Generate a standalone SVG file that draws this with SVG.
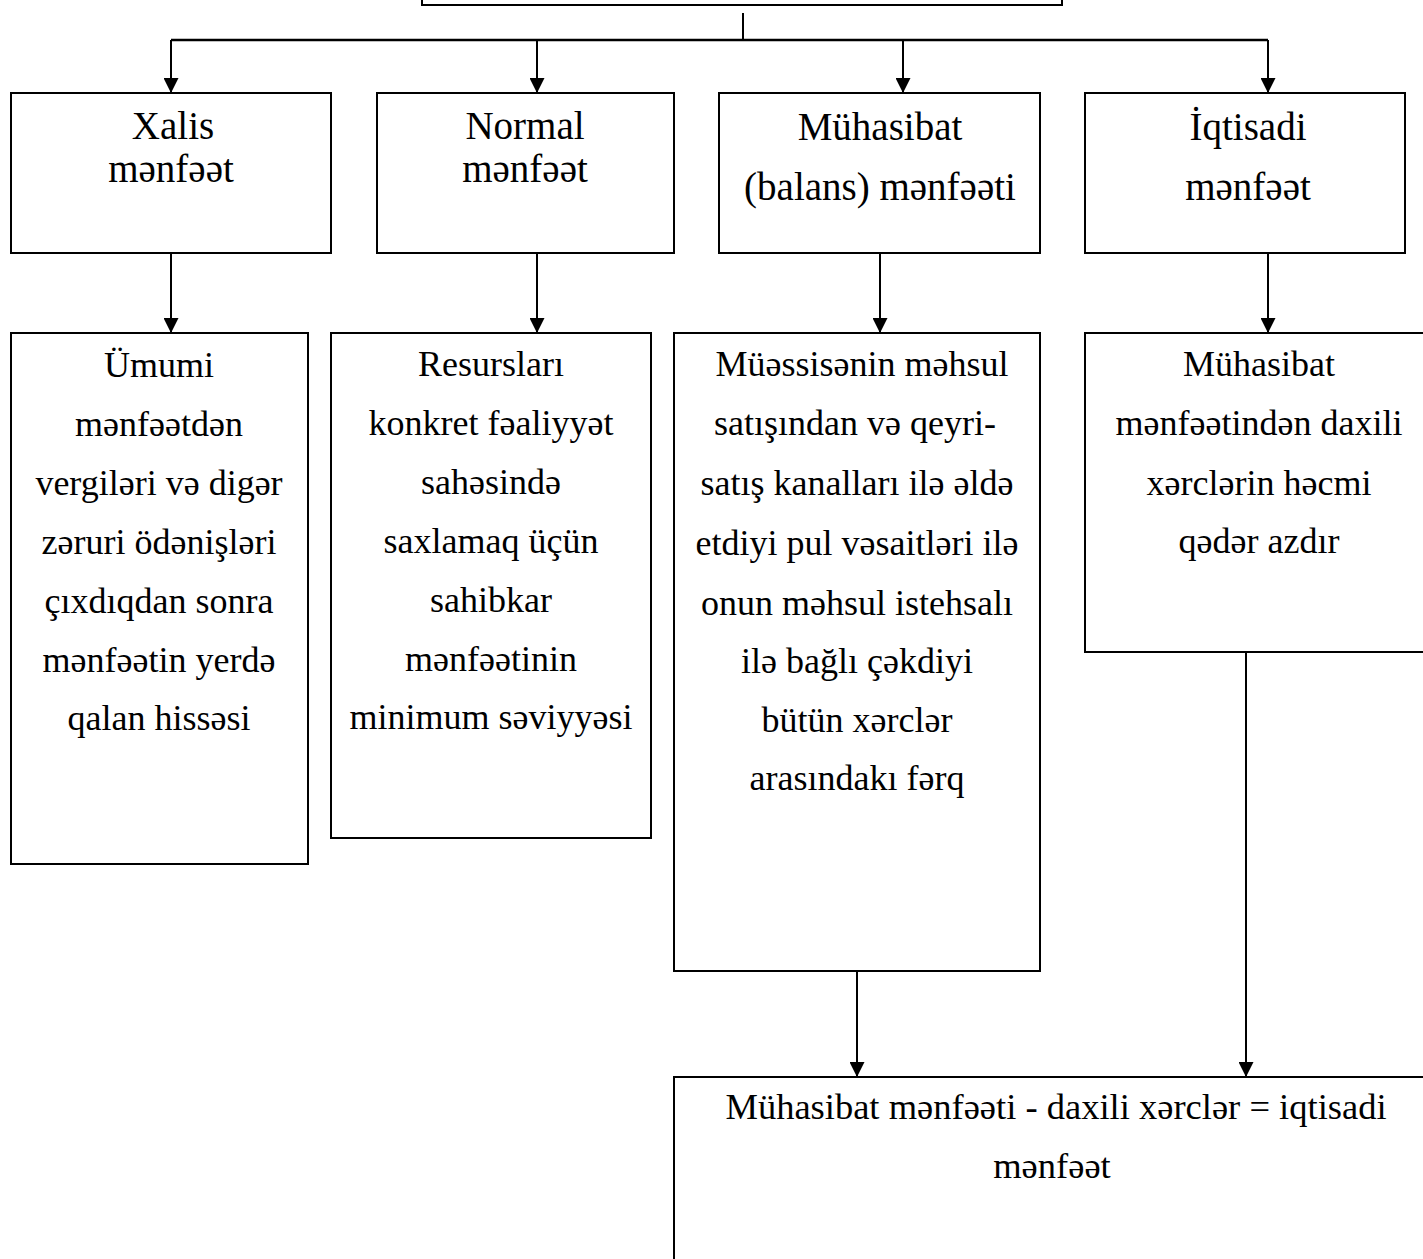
<svg xmlns="http://www.w3.org/2000/svg" width="1423" height="1259" viewBox="0 0 1423 1259">
  <style>
    .box { fill: #ffffff; stroke: #000000; stroke-width: 2; }
    .ln { fill: none; stroke: #000000; stroke-width: 2; }
    .t40 { font-family: "Liberation Serif", "DejaVu Serif", "Times New Roman", serif; font-size: 39px; fill: #000000; text-anchor: middle; }
    .t36 { font-family: "Liberation Serif", "DejaVu Serif", "Times New Roman", serif; font-size: 36px; fill: #000000; text-anchor: middle; }
  </style>
  <defs>
    <marker id="arrow" viewBox="0 0 10 10" refX="10" refY="5" markerWidth="15" markerHeight="15" markerUnits="userSpaceOnUse" orient="auto">
      <path d="M0,0 L10,5 L0,10 Z" fill="#000000"/>
    </marker>
  </defs>
  <rect width="1423" height="1259" fill="#ffffff"/>

  <g id="connectors">
    <line class="ln" x1="743" y1="13" x2="743" y2="40"/>
    <line class="ln" x1="171" y1="40" x2="1268" y2="40" style="stroke-width:2.5"/>
    <line class="ln" x1="171" y1="40" x2="171" y2="93" marker-end="url(#arrow)"/>
    <line class="ln" x1="537" y1="40" x2="537" y2="93" marker-end="url(#arrow)"/>
    <line class="ln" x1="903" y1="40" x2="903" y2="93" marker-end="url(#arrow)"/>
    <line class="ln" x1="1268" y1="40" x2="1268" y2="93" marker-end="url(#arrow)"/>
    <line class="ln" x1="171" y1="253" x2="171" y2="333" marker-end="url(#arrow)"/>
    <line class="ln" x1="537" y1="253" x2="537" y2="333" marker-end="url(#arrow)"/>
    <line class="ln" x1="880" y1="253" x2="880" y2="333" marker-end="url(#arrow)"/>
    <line class="ln" x1="1268" y1="253" x2="1268" y2="333" marker-end="url(#arrow)"/>
    <line class="ln" x1="857" y1="971" x2="857" y2="1077" marker-end="url(#arrow)"/>
    <line class="ln" x1="1246" y1="652" x2="1246" y2="1077" marker-end="url(#arrow)"/>
  </g>

  <g id="node-top">
    <rect class="box" x="422" y="-40" width="640" height="45"/>
  </g>

  <g id="node-xalis">
    <rect class="box" x="11" y="93" width="320" height="160"/>
    <text class="t40" x="173" y="139">Xalis</text>
    <text class="t40" x="171" y="182">mənfəət</text>
  </g>
  <g id="node-normal">
    <rect class="box" x="377" y="93" width="297" height="160"/>
    <text class="t40" x="525" y="139">Normal</text>
    <text class="t40" x="525" y="182">mənfəət</text>
  </g>
  <g id="node-muhasibat">
    <rect class="box" x="719" y="93" width="321" height="160"/>
    <text class="t40" x="880" y="140">Mühasibat</text>
    <text class="t40" x="880" y="200">(balans) mənfəəti</text>
  </g>
  <g id="node-iqtisadi">
    <rect class="box" x="1085" y="93" width="320" height="160"/>
    <text class="t40" x="1248" y="140">İqtisadi</text>
    <text class="t40" x="1248" y="200">mənfəət</text>
  </g>

  <g id="node-xalis-desc">
    <rect class="box" x="11" y="333" width="297" height="531"/>
    <text class="t36" x="159" y="377">Ümumi</text>
    <text class="t36" x="159" y="436">mənfəətdən</text>
    <text class="t36" x="159" y="495">vergiləri və digər</text>
    <text class="t36" x="159" y="554">zəruri ödənişləri</text>
    <text class="t36" x="159" y="613">çıxdıqdan sonra</text>
    <text class="t36" x="159" y="672">mənfəətin yerdə</text>
    <text class="t36" x="159" y="730">qalan hissəsi</text>
  </g>
  <g id="node-normal-desc">
    <rect class="box" x="331" y="333" width="320" height="505"/>
    <text class="t36" x="491" y="376">Resursları</text>
    <text class="t36" x="491" y="435">konkret fəaliyyət</text>
    <text class="t36" x="491" y="494">sahəsində</text>
    <text class="t36" x="491" y="553">saxlamaq üçün</text>
    <text class="t36" x="491" y="612">sahibkar</text>
    <text class="t36" x="491" y="671">mənfəətinin</text>
    <text class="t36" x="491" y="729">minimum səviyyəsi</text>
  </g>
  <g id="node-muhasibat-desc">
    <rect class="box" x="674" y="333" width="366" height="638"/>
    <text class="t36" x="862" y="376">Müəssisənin məhsul</text>
    <text class="t36" x="855" y="435">satışından və qeyri-</text>
    <text class="t36" x="857" y="495">satış kanalları ilə əldə</text>
    <text class="t36" x="857" y="555">etdiyi pul vəsaitləri ilə</text>
    <text class="t36" x="857" y="615">onun məhsul istehsalı</text>
    <text class="t36" x="857" y="673">ilə bağlı çəkdiyi</text>
    <text class="t36" x="857" y="732">bütün xərclər</text>
    <text class="t36" x="857" y="790">arasındakı fərq</text>
  </g>
  <g id="node-iqtisadi-desc">
    <rect class="box" x="1085" y="333" width="350" height="319"/>
    <text class="t36" x="1259" y="376">Mühasibat</text>
    <text class="t36" x="1259" y="435">mənfəətindən daxili</text>
    <text class="t36" x="1259" y="495">xərclərin həcmi</text>
    <text class="t36" x="1259" y="553">qədər azdır</text>
  </g>
  <g id="node-formula">
    <rect class="box" x="674" y="1077" width="770" height="220"/>
    <text class="t36" x="1056" y="1119" style="font-size:36.5px">Mühasibat mənfəəti - daxili xərclər = iqtisadi</text>
    <text class="t36" x="1052" y="1178" style="font-size:36.5px">mənfəət</text>
  </g>
</svg>
